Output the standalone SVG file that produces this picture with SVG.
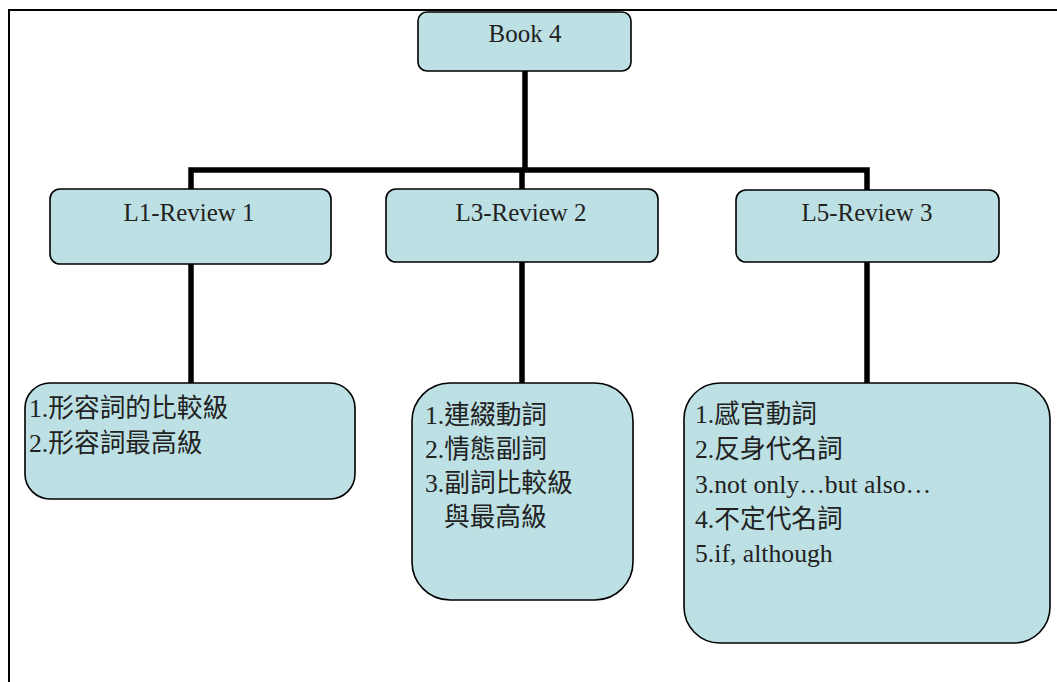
<svg xmlns="http://www.w3.org/2000/svg" width="1057" height="682" viewBox="0 0 1057 682">
<style>
.box{fill:#bce0e3;stroke:#000;stroke-width:1.6}
.conn{fill:none;stroke:#000;stroke-width:5.5}
.t{font-family:"Liberation Serif","Noto Sans CJK TC",serif;font-size:25px;fill:#222}
.i{font-family:"Liberation Serif","Noto Sans CJK TC",serif;font-size:25.7px;fill:#222}
</style>
<rect x="0" y="0" width="1057" height="682" fill="#fff"/>
<path d="M9,682 V10 H1057" fill="none" stroke="#000" stroke-width="2"/>
<g id="connectors">
<path class="conn" d="M525,71 V170"/>
<path class="conn" d="M191,190 V170 H867 V190"/>
<path class="conn" d="M522,170 V190"/>
<path class="conn" d="M191,264 V383"/>
<path class="conn" d="M522,262 V383"/>
<path class="conn" d="M867,262 V383"/>
</g>
<g id="book4">
<rect class="box" x="418" y="12" width="213" height="59" rx="9"/>
<text class="t" x="525" y="42" text-anchor="middle">Book 4</text>
</g>
<g id="l1">
<rect class="box" x="50" y="189" width="281" height="75" rx="10"/>
<text class="t" x="189" y="221" text-anchor="middle">L1-Review 1</text>
</g>
<g id="l3">
<rect class="box" x="386" y="189" width="272" height="73" rx="10"/>
<text class="t" x="521" y="221" text-anchor="middle">L3-Review 2</text>
</g>
<g id="l5">
<rect class="box" x="736" y="190" width="263" height="72" rx="10"/>
<text class="t" x="867" y="221" text-anchor="middle">L5-Review 3</text>
</g>
<g id="l1-items">
<rect class="box" x="25" y="383" width="330" height="116" rx="25"/>
<text class="i" x="29" y="417">1.形容詞的比較級</text>
<text class="i" x="29" y="452">2.形容詞最高級</text>
</g>
<g id="l3-items">
<rect class="box" x="412" y="383" width="221" height="217" rx="38"/>
<text class="i" x="425" y="424">1.連綴動詞</text>
<text class="i" x="425" y="458">2.情態副詞</text>
<text class="i" x="425" y="492">3.副詞比較級</text>
<text class="i" x="444" y="526">與最高級</text>
</g>
<g id="l5-items">
<rect class="box" x="684" y="383" width="366" height="260" rx="36"/>
<text class="i" x="695" y="423">1.感官動詞</text>
<text class="i" x="695" y="458">2.反身代名詞</text>
<text class="i" x="695" y="493">3.not only…but also…</text>
<text class="i" x="695" y="528">4.不定代名詞</text>
<text class="i" x="695" y="562">5.if, although</text>
</g>
</svg>
